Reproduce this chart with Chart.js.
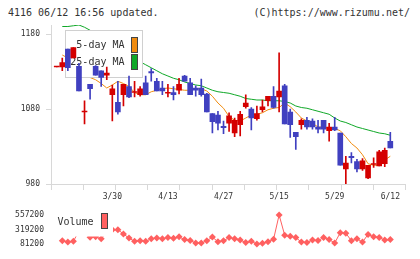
<!DOCTYPE html>
<html>
<head>
<meta charset="utf-8">
<script src="https://cdn.jsdelivr.net/npm/chart.js@4.4.1/dist/chart.umd.min.js"></script>
<style>
  html, body { margin: 0; padding: 0; background: #fff; }
  #wrap { position: relative; width: 420px; height: 259px; overflow: hidden; font-family: "DejaVu Sans Mono", monospace; }
  #head-l, #head-r { position: absolute; top: 6px; font-size: 10px; line-height: 13px; color: #333; white-space: pre; }
  #head-l { left: 8px; }
  #head-r { right: 10px; }
  canvas { position: absolute; left: 0; }
  #price { top: 0; }
  #vol { top: 200px; }
</style>
</head>
<body>
<div id="wrap">
  <div id="head-l">4116 06/12 16:56 updated.</div>
  <div id="head-r">(C)https://www.rizumu.net/</div>
  <canvas id="price" width="420" height="205"></canvas>
  <canvas id="vol" width="420" height="59"></canvas>
</div>
<script>
// trading days shown on the chart
const dates = ['3/16','3/17','3/18','3/19','3/20','3/23','3/24','3/25','3/26','3/27',
  '3/30','3/31','4/1','4/2','4/3','4/6','4/7','4/8','4/9','4/10',
  '4/13','4/14','4/15','4/16','4/17','4/20','4/21','4/22','4/23','4/24',
  '4/27','4/28','4/30','5/1','5/7','5/8','5/11','5/12','5/13','5/14',
  '5/15','5/18','5/19','5/20','5/21','5/22','5/25','5/26','5/27','5/28',
  '5/29','6/1','6/2','6/3','6/4','6/5','6/8','6/9','6/10','6/11','6/12'];

const open  = [1136,1136,1160,1148,1137,1076,1113,1137,1131,1125,
  1099,1089,1099,1110,1102,1099,1115,1130,1117,1108,
  1101,1102,1105,1124,1115,1108,1108,1100,1074,1072,
  1057,1061,1048,1059,1083,1080,1067,1079,1091,1097,
  1096,1111,1076,1049,1059,1065,1064,1056,1065,1051,
  1056,1048,1000,1017,1010,1000,988,1006,1004,1007,1037];
const high  = [1136,1148,1160,1162,1141,1091,1113,1138,1131,1136,
  1112,1117,1113,1124,1117,1110,1124,1134,1121,1117,
  1113,1110,1121,1125,1121,1111,1120,1101,1074,1077,
  1064,1075,1068,1077,1099,1082,1084,1092,1097,1110,
  1155,1113,1080,1049,1067,1069,1067,1065,1065,1061,
  1069,1048,1017,1022,1013,1014,1005,1015,1025,1028,1049];
const low   = [1136,1131,1131,1148,1104,1060,1093,1125,1110,1119,
  1064,1073,1084,1095,1096,1097,1099,1117,1104,1099,
  1096,1092,1100,1117,1099,1097,1097,1076,1048,1052,
  1047,1050,1043,1044,1081,1052,1065,1076,1084,1081,
  1076,1060,1042,1026,1053,1053,1053,1048,1048,1037,
  1051,1005,980,1008,996,998,987,1002,1004,1003,1028];
const close = [1136,1142,1135,1162,1104,1076,1107,1125,1122,1128,
  1107,1076,1113,1096,1102,1107,1099,1128,1104,1104,
  1101,1099,1113,1117,1099,1105,1099,1076,1063,1061,
  1055,1071,1065,1073,1088,1068,1074,1083,1097,1082,
  1104,1060,1059,1043,1065,1056,1056,1053,1053,1056,
  1052,1005,1008,1015,1000,1011,1005,1006,1023,1025,1028];

const ma5 = [null,1152,1148,1145,1138,1130,1122,1119,1114,1108,
  1112,1117,1114,1110,1102,1099,1099,1103,1105,1107,
  1108,1107,1106,1105,1105,1107,1107,1104,1097,1088,
  1081,1070,1065,1064,1068,1072,1073,1075,1079,1081,
  1082,1088,1083,1076,1068,1064,1061,1056,1056,1054,
  1054,1051,1043,1034,1028,1019,1007,1005,1005,1012,1017];
const ma25 = [null,1190,1190,1191,1192,1189,1185,1181,1177,1172,
  1167,1162,1157,1152,1147,1143,1139,1135,1131,1127,
  1124,1121,1119,1116,1114,1112,1111,1108,1105,1103,
  1102,1101,1099,1097,1094,1093,1092,1092,1091,1091,
  1091,1090,1088,1084,1082,1081,1079,1077,1075,1073,
  1068,1064,1062,1059,1056,1054,1052,1050,1048,1047,1045];

const volume = [null,134400,113800,125900,295000,283000,192300,198400,165800,286600,
  313200,315600,246700,177800,125900,134400,125900,165800,177800,165800,
  186300,174200,198400,153700,138000,98100,98100,134400,194800,117400,
  134400,186300,165800,146400,105400,125900,81200,93300,117400,158500,
  557200,226200,206800,186300,113800,105400,146400,138000,186300,153700,
  98100,267200,258800,134400,165800,113800,238300,198400,186300,146400,153700];

const priceTicks = [980, 1080, 1180];
const volumeTicks = [81200, 319200, 557200];
const dateLabels = ['3/30', '4/13', '4/27', '5/15', '5/29', '6/12'];

const UP = '#d40000', DOWN = '#4040c0';
const MA5_COLOR = '#f08c10', MA25_COLOR = '#10a828', VOL_COLOR = '#ff6060';
const AXIS = '#d8d8d8', TEXT = '#333';
const X_MIN = -1.03, X_MAX = 62.75;
const FAMILY = "'DejaVu Sans Mono', monospace";
const tickFont = { family: FAMILY, size: 8 };

const candleColor = close.map((c, i) => c >= open[i] ? UP : DOWN);
const pts = arr => arr.map((v, i) => ({ x: i, y: v }));
const plain = v => String(v);

// legend box sits above the MA lines but under the candles
const priceLegend = {
  id: 'priceLegend',
  beforeDatasetDraw(chart, args) {
    if (args.index !== 2) return;
    const ctx = chart.ctx;
    const items = [chart.data.datasets[0], chart.data.datasets[1]];
    ctx.save();
    ctx.fillStyle = '#fff';
    ctx.fillRect(65, 30, 78, 48);
    ctx.strokeStyle = '#d0d0d0';
    ctx.lineWidth = 1;
    ctx.strokeRect(65.5, 30.5, 77, 47);
    ctx.font = "10px 'DejaVu Sans Mono'";
    ctx.textAlign = 'right';
    ctx.textBaseline = 'middle';
    items.forEach((ds, k) => {
      const top = 37.5 + k * 17;
      ctx.fillStyle = TEXT;
      ctx.fillText(ds.label, 124.5, top + 8);
      ctx.fillStyle = ds.borderColor;
      ctx.fillRect(131.5, top, 6, 15);
      ctx.strokeStyle = '#444';
      ctx.strokeRect(131.5, top, 6, 15);
    });
    ctx.restore();
  }
};

const volLegend = {
  id: 'volLegend',
  afterDatasetsDraw(chart) {
    const ctx = chart.ctx;
    const ds = chart.data.datasets[0];
    ctx.save();
    ctx.fillStyle = '#fff';
    ctx.fillRect(53, 5, 60, 31.5);
    ctx.font = "10px 'DejaVu Sans Mono'";
    ctx.textAlign = 'right';
    ctx.textBaseline = 'middle';
    ctx.fillStyle = TEXT;
    ctx.fillText(ds.label, 93.5, 22.5);
    ctx.fillStyle = ds.borderColor;
    ctx.fillRect(101.5, 13.5, 6, 15);
    ctx.strokeStyle = '#444';
    ctx.lineWidth = 1;
    ctx.strokeRect(101.5, 13.5, 6, 15);
    ctx.restore();
  }
};

new Chart(document.getElementById('price'), {
  type: 'bar',
  data: {
    datasets: [
      { type: 'line', label: '5-day MA', data: pts(ma5), borderColor: MA5_COLOR, borderWidth: 1, pointRadius: 0, order: 3 },
      { type: 'line', label: '25-day MA', data: pts(ma25), borderColor: MA25_COLOR, borderWidth: 1, pointRadius: 0, order: 3 },
      { label: 'range', data: dates.map((d, i) => ({ x: i, y: [low[i], high[i]] })),
        backgroundColor: candleColor, barThickness: 1, grouped: false, order: 1 },
      { label: 'body', data: dates.map((d, i) => ({ x: i, y: [open[i], close[i]] })),
        backgroundColor: candleColor, barThickness: 5, minBarLength: 1, grouped: false, order: 0 }
    ]
  },
  options: {
    responsive: false,
    animation: false,
    devicePixelRatio: 1,
    layout: { padding: { left: 0, right: 14.4, top: 25, bottom: 0 } },
    plugins: { legend: { display: false }, tooltip: { enabled: false } },
    scales: {
      x: {
        type: 'linear', min: X_MIN, max: X_MAX, offset: false, weight: 0,
        afterBuildTicks: s => { s.ticks = Array.from({ length: 12 }, (_, k) => ({ value: X_MIN + k * (X_MAX - X_MIN) / 11 })); },
        afterFit: s => { s.height = 6; },
        ticks: { callback: () => '', autoSkip: false, maxRotation: 0, padding: 0, font: tickFont },
        grid: { offset: false, drawOnChartArea: false, tickLength: 6, color: AXIS },
        border: { color: AXIS }
      },
      x2: {
        type: 'linear', axis: 'x', position: 'bottom', min: X_MIN, max: X_MAX, offset: false, weight: 1,
        afterBuildTicks: s => { s.ticks = dateLabels.map(l => ({ value: dates.indexOf(l) })); },
        afterFit: s => { s.height = 15; },
        ticks: { callback: v => dates[v], autoSkip: false, maxRotation: 0, padding: 2.5, font: tickFont, color: TEXT },
        grid: { display: false, drawTicks: false },
        border: { display: false }
      },
      y: {
        type: 'linear', min: 980, max: 1192,
        afterBuildTicks: s => { s.ticks = priceTicks.map(v => ({ value: v })); },
        afterFit: s => { s.width = 51; },
        ticks: { callback: plain, font: tickFont, color: TEXT, padding: 6 },
        grid: { drawOnChartArea: false, tickLength: 5, color: AXIS },
        border: { color: AXIS }
      }
    }
  },
  plugins: [priceLegend]
});

new Chart(document.getElementById('vol'), {
  type: 'line',
  data: {
    datasets: [{
      label: 'Volume', data: pts(volume), borderColor: VOL_COLOR, borderWidth: 1,
      pointStyle: 'rectRot', pointRadius: 3.5, pointBackgroundColor: VOL_COLOR, pointBorderWidth: 0, clip: 6
    }]
  },
  options: {
    responsive: false,
    animation: false,
    devicePixelRatio: 1,
    layout: { padding: { left: 0, right: 14.4, top: 5, bottom: 6 } },
    plugins: { legend: { display: false }, tooltip: { enabled: false } },
    scales: {
      x: { type: 'linear', min: X_MIN, max: X_MAX, display: false },
      y: {
        type: 'linear', min: 29000, max: 609000,
        afterBuildTicks: s => { s.ticks = volumeTicks.map(v => ({ value: v })); },
        afterFit: s => { s.width = 51; },
        ticks: { callback: plain, font: tickFont, color: TEXT, padding: 7 },
        grid: { display: false, drawTicks: false },
        border: { display: false }
      }
    }
  },
  plugins: [volLegend]
});
</script>
</body>
</html>
